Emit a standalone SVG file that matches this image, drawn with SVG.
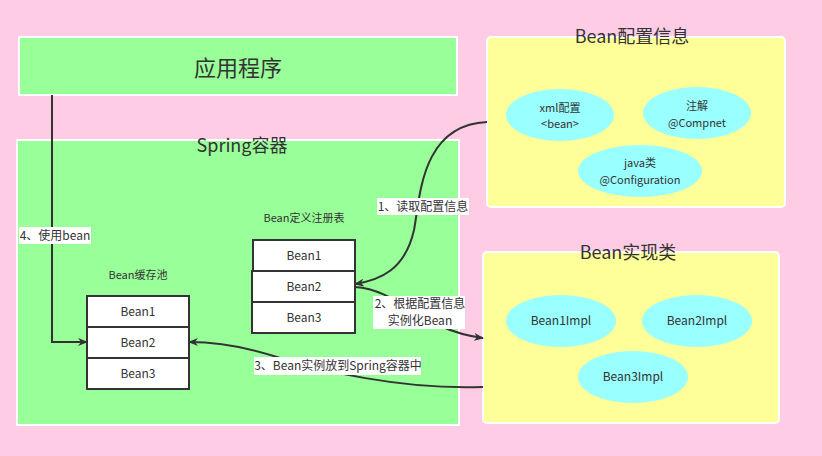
<svg xmlns="http://www.w3.org/2000/svg" width="822" height="456" viewBox="0 0 822 456">
<style>
text{font-family:"Noto Sans CJK SC","Liberation Sans",sans-serif;fill:#333;text-anchor:middle}
.g{fill:#99FF99;stroke:#fff;stroke-width:2}
.y{fill:#FFFF99;stroke:#fff;stroke-width:2}
.e{fill:#99FFFF;stroke:none}
.c{fill:#fff;stroke:#333;stroke-width:2}
.s{font-size:12px}
.t{font-size:11px}
.l{stroke:#333;stroke-width:2;fill:none;marker-end:url(#a)}
.lb{fill:#fff}
</style>
<defs><marker id="a" markerWidth="10" markerHeight="8" refX="9" refY="4" orient="auto" markerUnits="userSpaceOnUse"><path d="M0,0 L10,4 L0,8 L3,4Z" fill="#333"/></marker></defs>
<rect width="822" height="456" fill="#FFCCE6"/>
<g id="app"><rect class="g" x="19" y="37" width="438" height="58"/><text x="238" y="76" font-size="22">应用程序</text></g>
<g id="spring"><rect class="g" x="17" y="140" width="442" height="285"/><text x="242" y="152" font-size="18">Spring容器</text></g>
<g id="config"><rect class="y" x="487" y="37" width="298" height="170" rx="4"/><text x="632" y="43" font-size="18">Bean配置信息</text>
<ellipse class="e" cx="560" cy="115" rx="54" ry="26"/><text class="t" x="560" y="112">xml配置</text><text class="t" x="560" y="128">&lt;bean&gt;</text>
<ellipse class="e" cx="697" cy="113" rx="54" ry="26"/><text class="t" x="697" y="110">注解</text><text class="t" x="697" y="127">@Compnet</text>
<ellipse class="e" cx="640" cy="171" rx="62" ry="26"/><text class="t" x="640" y="167">java类</text><text class="t" x="640" y="184">@Configuration</text></g>
<g id="impl"><rect class="y" x="483" y="252" width="296" height="171" rx="4"/><text x="628" y="259" font-size="18">Bean实现类</text>
<ellipse class="e" cx="561" cy="321" rx="55" ry="26"/><text class="s" x="561" y="325">Bean1Impl</text>
<ellipse class="e" cx="697" cy="321" rx="55" ry="26"/><text class="s" x="697" y="325">Bean2Impl</text>
<ellipse class="e" cx="633" cy="377" rx="55" ry="26"/><text class="s" x="633" y="381">Bean3Impl</text></g>
<g id="registry"><text class="t" x="304" y="222">Bean定义注册表</text>
<rect class="c" x="253" y="240" width="102" height="31"/><text class="s" x="304" y="260">Bean1</text>
<rect class="c" x="252" y="271" width="103" height="31"/><text class="s" x="304" y="291">Bean2</text>
<rect class="c" x="252" y="302" width="103" height="31"/><text class="s" x="304" y="322">Bean3</text></g>
<g id="cache"><text class="t" x="138" y="279">Bean缓存池</text>
<rect class="c" x="87" y="296" width="102" height="31"/><text class="s" x="138" y="316">Bean1</text>
<rect class="c" x="87" y="327" width="102" height="31"/><text class="s" x="138" y="347">Bean2</text>
<rect class="c" x="87" y="358" width="102" height="31"/><text class="s" x="138" y="378">Bean3</text></g>
<g id="connectors">
<path class="l" d="M52,95 V342 H87"/>
<rect class="lb" x="19" y="227" width="72" height="17"/><text class="s" x="55" y="240">4、使用bean</text>
<path class="l" d="M487,122 C420,125 420,200 414,230 C405,270 380,280 355,284"/>
<rect class="lb" x="377" y="198" width="92" height="17"/><text class="s" x="423" y="211">1、读取配置信息</text>
<path class="l" d="M355,287 C400,290 420,330 483,338"/>
<rect class="lb" x="373" y="296" width="92" height="33"/><text class="s" x="420" y="308">2、根据配置信息</text><text class="s" x="420" y="325">实例化Bean</text>
<path class="l" d="M483,387 C400,390 320,370 280,358 C250,348 220,342 189,342"/>
<rect class="lb" x="254" y="357" width="167" height="18"/><text class="s" x="338" y="370">3、Bean实例放到Spring容器中</text>
</g>
</svg>
